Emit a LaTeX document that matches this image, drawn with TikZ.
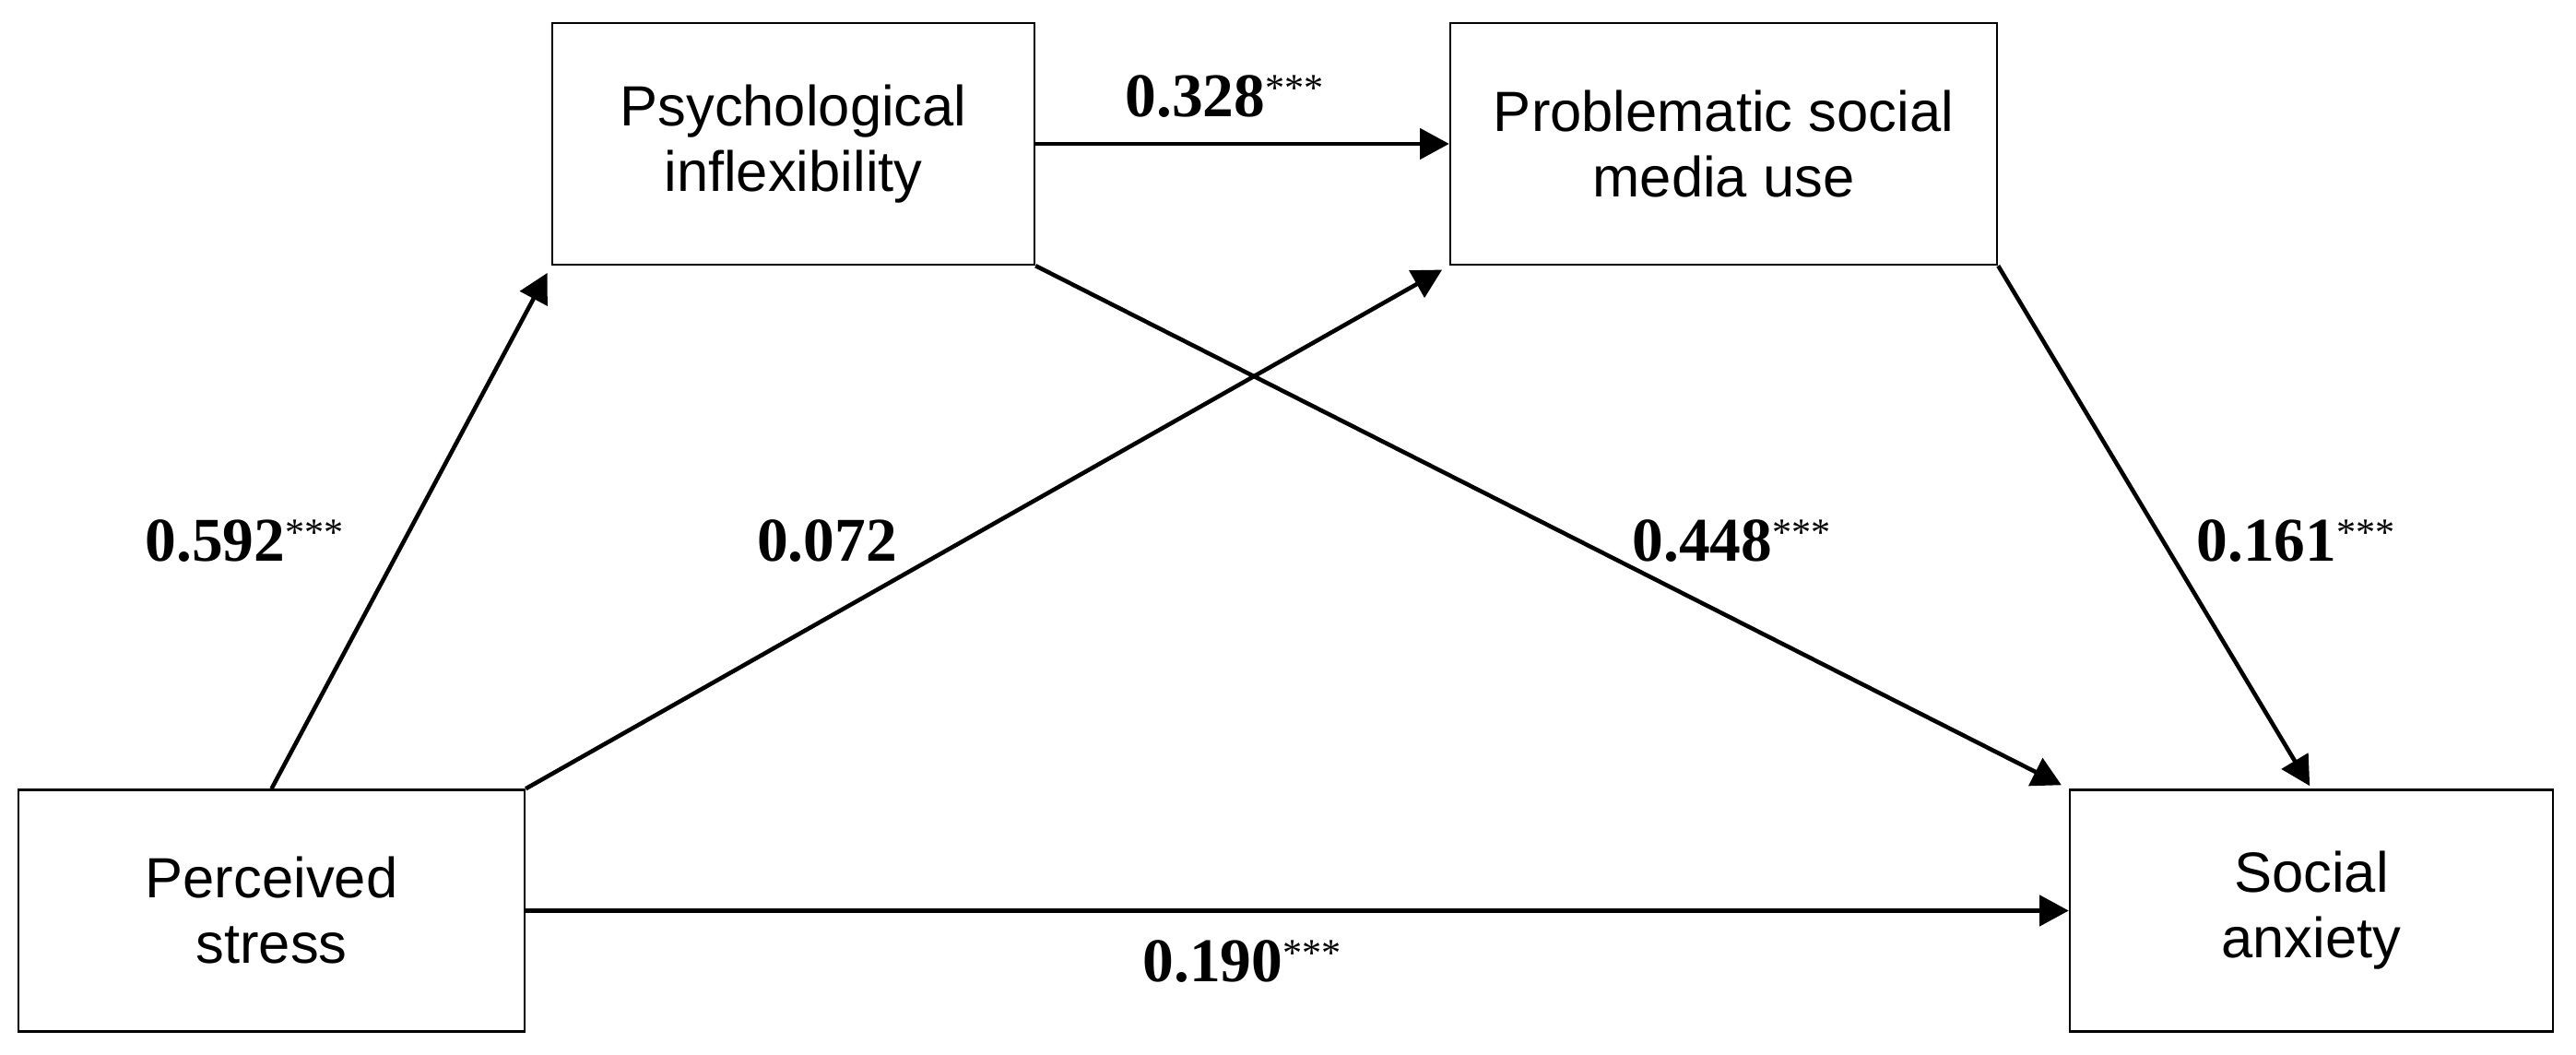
\documentclass[tikz,border=0pt]{standalone}
\usepackage{fontspec}
\setmainfont{Liberation Serif}
\setsansfont{Liberation Sans}
\usetikzlibrary{arrows.meta}

\newcommand{\sigstars}{\raisebox{4.9pt}{\fontsize{12}{12}\selectfont\mdseries ***}}

\begin{document}
\begin{tikzpicture}[box/.style={draw, line width=0.7pt, align=center, inner sep=0pt, minimum height=2.62cm, font=\sffamily\fontsize{17.5}{20.2}\selectfont}, coef/.style={anchor=base, inner sep=0pt, font=\bfseries\fontsize{19.2}{20}\selectfont}, eff/.style={-{Triangle[length=9pt,width=9.4pt]}, line width=1.3pt}]
        \useasboundingbox (0,0) rectangle (27.94,11.44);

        \node[box, minimum width=5.23cm] (PI) at (8.605,9.88) {Psychological\\inflexibility};
        \node[box, minimum width=5.93cm] (PSMU) at (18.695,9.88) {Problematic social\\media use};
        \node[box, minimum width=5.49cm] (PS) at (2.945,1.565) {Perceived\\stress};
        \node[box, minimum width=5.24cm] (SA) at (25.07,1.565) {Social\\anxiety};

        \draw[eff] (PI.east) -- (PSMU.west);
        \draw[eff, shorten >=2.5pt] (PS.north) -- (PI.south west);
        \draw[eff, shorten >=2.5pt] (PS.north east) -- (PSMU.south west);
        \draw[eff, shorten >=2.5pt] (PI.south east) -- (SA.north west);
        \draw[eff, shorten >=1pt] (PSMU.south east) -- (SA.north);
        \draw[eff] (PS.east) -- (SA.west);

        \node[coef] (c592) at (2.65,5.35) {0.592\sigstars};
        \node[coef] (c072) at (8.97,5.35) {0.072};
        \node[coef] (c328) at (13.28,10.17) {0.328\sigstars};
        \node[coef] (c448) at (18.78,5.35) {0.448\sigstars};
        \node[coef] (c161) at (24.90,5.35) {0.161\sigstars};
        \node[coef] (c190) at (13.47,0.79) {0.190\sigstars};
    \end{tikzpicture}
\end{document}
